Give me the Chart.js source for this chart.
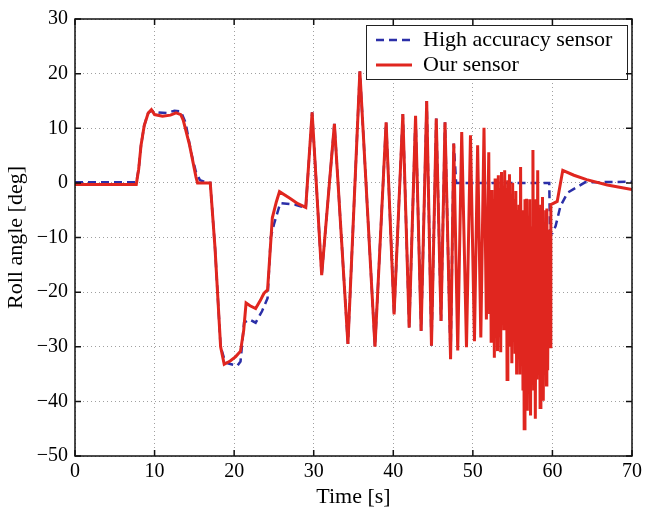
<!DOCTYPE html>
<html>
<head>
<meta charset="utf-8">
<title>Roll angle</title>
<script src="https://cdn.jsdelivr.net/npm/chart.js@4.4.1/dist/chart.umd.min.js"></script>
<style>
  html, body { margin: 0; padding: 0; background: #fff; }
</style>
</head>
<body>
<canvas id="roll-chart" width="646" height="515"></canvas>
<script>
// Roll angle: high accuracy sensor vs our sensor

// --- data (time in s, roll in deg) ---
const redHeadTime = [0, 7.7, 8.0, 8.3, 8.7, 9.2, 9.6, 10.0, 11.0, 12.0, 12.7, 13.3, 13.6, 14.4, 15.2, 15.4, 17.0, 17.6, 18.3, 18.75, 19.5, 20.2, 20.8, 21.2, 21.5, 22.0, 22.7, 23.3, 23.75, 24.2, 24.5, 24.8, 25.3, 25.7, 27.0, 28.0, 29.0];
const redHeadRoll = [-0.3, -0.3, 2.5, 6.9, 10.5, 12.8, 13.4, 12.5, 12.2, 12.4, 12.8, 12.5, 11.5, 6.9, 1.1, 0, 0, -12, -30, -33.2, -32.6, -31.8, -30.8, -27, -22, -22.5, -23, -21.5, -20.2, -19.6, -13, -6.4, -3.5, -1.6, -2.8, -3.8, -4.5];

// oscillations where both sensors agree
const oscTime = [29.8, 31.0, 32.6, 34.3, 35.8, 37.7, 39.1, 40.1, 41.2, 42.0, 42.8, 43.5, 44.2, 44.8, 45.4, 46.0, 46.5, 47.2, 47.6];
const oscRoll = [12.9, -16.9, 10.8, -29.5, 20.4, -30, 11.1, -24.1, 12.6, -26.5, 12.3, -27.1, 15.0, -29.8, 11.8, -25.3, 11.1, -32.3, 7.2];

const redTailTime = [48.1, 48.6, 49.2, 49.7, 50.2, 50.6, 51.0, 51.4, 51.7,
  52.0, 52.1, 52.2, 52.3, 52.4, 52.5, 52.6, 52.7, 52.8, 52.9,
  53.0, 53.1, 53.2, 53.3, 53.4, 53.5, 53.6, 53.7, 53.8, 53.9,
  54.0, 54.1, 54.2, 54.3, 54.4, 54.5, 54.6, 54.7, 54.8, 54.9,
  55.0, 55.1, 55.2, 55.3, 55.4, 55.5, 55.6, 55.7, 55.8, 55.9,
  56.0, 56.1, 56.2, 56.3, 56.35, 56.45, 56.55, 56.65, 56.75, 56.85, 56.95,
  57.05, 57.15, 57.25, 57.35, 57.45, 57.55, 57.65, 57.75, 57.85, 57.95,
  58.05, 58.15, 58.25, 58.35, 58.45, 58.55, 58.65, 58.75, 58.85, 58.95,
  59.05, 59.15, 59.25, 59.3, 59.4, 59.5, 59.6, 59.65, 59.7,
  59.8, 60.6, 61.3, 62.7, 64.3, 66.9, 70.0];
const redTailRoll = [-30.7, 9.3, -30.1, 8.7, -29.0, 6.9, -28.3, 10.1, -25.0,
  5.6, -24, -2, -29, -1.3, -26, -3, -32, 0.8, -27,
  -2, -30.8, 1.4, -28, -1, -31, 2.0, -22, -1, -27,
  2.3, -24, -1, -36, 0.5, -29, 1.6, -30, -2, -33,
  0, -28, -3, -31, -1.5, -35.1, -5, -30, -4, -35.1,
  2.9, -32, -6, -38, -5, -45, -3, -36, -2.9, -41.7, -6,
  -34, -3, -42.6, -8, -30, 6.0, -38, -5, -43.2, -3,
  -36, 2.3, -33, -7, -41.1, -4, -35, -2.6, -39.9, -8,
  -30, -5, -37, -4.7, -34.3, -10, -28, -8.6, -30,
  -4, -3.4, 2.3, 1.4, 0.6, -0.4, -1.2];

const blueHeadTime = [0, 7.7, 8.0, 8.3, 8.7, 9.2, 9.6, 10.5, 11.5, 12.5, 13.3, 13.9, 14.6, 15.2, 15.7, 16.5, 17.0, 17.6, 18.3, 18.9, 19.4, 20.4, 20.8, 21.25, 21.9, 22.7, 23.5, 24.2, 24.6, 25.0, 25.8, 27.7, 29.0];
const blueHeadRoll = [0.1, 0.1, 2.5, 6.9, 10.5, 12.8, 13.2, 12.9, 12.8, 13.2, 13.1, 11.0, 5.5, 2.0, 0.5, 0.1, 0, -12, -30, -32.9, -33.1, -33.5, -32.7, -25.6, -25.0, -25.6, -23.5, -21.1, -10, -7.6, -3.7, -4.0, -4.6];

const blueTailTime = [47.9, 59.6, 59.7, 60.0, 60.4, 61.0, 61.9, 64.1, 70];
const blueTailRoll = [0, 0, -9.4, -9.2, -7.9, -4.3, -1.8, 0.1, 0.2];

const xTicks = [0, 10, 20, 30, 40, 50, 60, 70];
const yTicks = [-50, -40, -30, -20, -10, 0, 10, 20, 30];

const legendLabels = ['High accuracy sensor', 'Our sensor'];

// --- helpers ---
function toPoints(times, values) {
  return times.map((t, i) => ({ x: t, y: values[i] }));
}

const ourSensor = [
  ...toPoints(redHeadTime, redHeadRoll),
  ...toPoints(oscTime, oscRoll),
  ...toPoints(redTailTime, redTailRoll)
];
const refSensor = [
  ...toPoints(blueHeadTime, blueHeadRoll),
  ...toPoints(oscTime, oscRoll),
  ...toPoints(blueTailTime, blueTailRoll)
];

const RED = '#e0261f';
const BLUE = '#2b2fa8';
const SERIF = "'Liberation Serif', 'Times New Roman', serif";

// frame with inward ticks + boxed legend, MATLAB style
const matlabFrame = {
  id: 'matlabFrame',
  afterDraw(chart) {
    const { ctx, chartArea: a, scales: { x, y } } = chart;
    ctx.save();

    // legend box
    const lw = 261, lh = 54;
    const lx = a.right - 266, ly = a.top + 6;
    ctx.fillStyle = '#fff';
    ctx.fillRect(lx, ly, lw, lh);
    ctx.strokeStyle = '#222';
    ctx.lineWidth = 1;
    ctx.strokeRect(lx + 0.5, ly + 0.5, lw, lh);

    const rows = [ly + 15, ly + 40];
    ctx.lineWidth = 2.5;
    ctx.strokeStyle = BLUE;
    ctx.setLineDash([8, 5]);
    ctx.beginPath();
    ctx.moveTo(lx + 10, rows[0]);
    ctx.lineTo(lx + 46, rows[0]);
    ctx.stroke();
    ctx.setLineDash([]);
    ctx.lineWidth = 3;
    ctx.strokeStyle = RED;
    ctx.beginPath();
    ctx.moveTo(lx + 10, rows[1]);
    ctx.lineTo(lx + 46, rows[1]);
    ctx.stroke();

    ctx.fillStyle = '#000';
    ctx.font = '22px ' + SERIF;
    ctx.textBaseline = 'middle';
    ctx.textAlign = 'left';
    ctx.fillText(legendLabels[0], lx + 57, rows[0]);
    ctx.fillText(legendLabels[1], lx + 57, rows[1]);

    // axes box
    ctx.strokeStyle = '#111';
    ctx.lineWidth = 1.5;
    ctx.strokeRect(a.left, a.top, a.right - a.left, a.bottom - a.top);

    // inward ticks on all four sides
    const tl = 6;
    ctx.beginPath();
    xTicks.forEach(v => {
      const px = x.getPixelForValue(v);
      ctx.moveTo(px, a.bottom); ctx.lineTo(px, a.bottom - tl);
      ctx.moveTo(px, a.top); ctx.lineTo(px, a.top + tl);
    });
    yTicks.forEach(v => {
      const py = y.getPixelForValue(v);
      ctx.moveTo(a.left, py); ctx.lineTo(a.left + tl, py);
      ctx.moveTo(a.right, py); ctx.lineTo(a.right - tl, py);
    });
    ctx.stroke();
    ctx.restore();
  }
};

const gridStyle = {
  color: '#a0a0a0',
  lineWidth: 1,
  drawTicks: false
};

new Chart(document.getElementById('roll-chart'), {
  type: 'line',
  data: {
    datasets: [
      {
        label: legendLabels[1],
        data: ourSensor,
        borderColor: RED,
        borderWidth: 3,
        pointRadius: 0,
        tension: 0,
        fill: false
      },
      {
        label: legendLabels[0],
        data: refSensor,
        borderColor: BLUE,
        borderWidth: 2.5,
        borderDash: [8, 5],
        pointRadius: 0,
        tension: 0,
        fill: false
      }
    ]
  },
  options: {
    responsive: false,
    animation: false,
    events: [],
    layout: { padding: { top: 12, right: 13, left: 0, bottom: 0 } },
    plugins: {
      legend: { display: false },
      tooltip: { enabled: false }
    },
    scales: {
      x: {
        type: 'linear',
        min: 0,
        max: 70,
        afterBuildTicks: scale => { scale.ticks = xTicks.map(v => ({ value: v })); },
        afterFit: scale => { scale.height = 59; },
        grid: gridStyle,
        border: { display: false, dash: [1, 3] },
        ticks: {
          color: '#000',
          padding: 4,
          maxRotation: 0,
          font: { family: SERIF, size: 20 }
        },
        title: {
          display: true,
          text: 'Time [s]',
          color: '#000',
          padding: { top: 0, bottom: 5 },
          font: { family: SERIF, size: 22 }
        }
      },
      y: {
        min: -50,
        max: 30,
        afterBuildTicks: scale => { scale.ticks = yTicks.map(v => ({ value: v })); },
        afterFit: scale => { scale.width = 75; },
        grid: gridStyle,
        border: { display: false, dash: [1, 3] },
        ticks: {
          color: '#000',
          padding: 7,
          font: { family: SERIF, size: 20 },
          callback: v => (v < 0 ? '\u2212' + Math.abs(v) : String(v))
        },
        title: {
          display: true,
          text: 'Roll angle [deg]',
          color: '#000',
          padding: { top: 3, bottom: 0 },
          font: { family: SERIF, size: 22 }
        }
      }
    }
  },
  plugins: [matlabFrame]
});
</script>
</body>
</html>
